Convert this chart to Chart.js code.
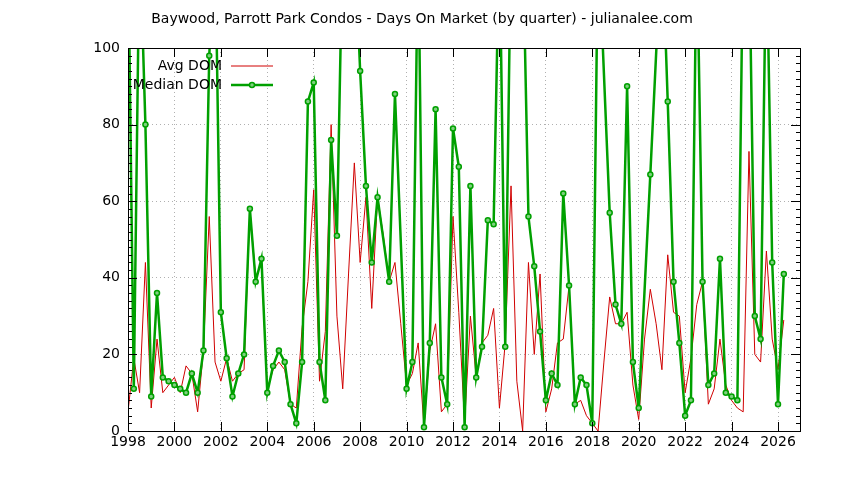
<!DOCTYPE html>
<html>
<head>
<meta charset="utf-8">
<script src="https://cdn.jsdelivr.net/npm/chart.js@4/dist/chart.umd.min.js"></script>
<style>
  html, body { margin: 0; padding: 0; background: #fff; }
  #wrap { width: 844px; height: 480px; }
</style>
</head>
<body>
<div id="wrap"><canvas id="chart" width="844" height="480"></canvas></div>
<script>
// Quarterly data, first quarter = 1998 Q1 (null = no sale that quarter)
const startYear = 1998;
const avgDom = [
  5, 19, 10, 44, 6, 24, 10, 12, 14, 10, 17, 15, 5, 21, 56, 18, 13, 19, 13, 15,
  16, 58, 40, 44, 11, 16, 18, 16, 7, 6, 27, 39, 63, 13, 26, 80, 30, 11, 41, 70,
  44, 61, 32, 61, 51, 39, 44, 28, 12, 15, 23, 1, 21, 28, 5, 7, 56, 31, 2, 30,
  14, 23, 25, 32, 6, 23, 64, 13, 0, 44, 20, 41, 5, 11, 23, 24, 38, 7, 8, 4,
  2, 0, 18, 35, 28, 28, 31, 12, 3, 24, 37, 28, 16, 46, 31, 30, 10, 19, 33, 39,
  7, 11, 24, 12, 8, 6, 5, 73, 20, 18, 47, 24, 16, 29
];
const medianDom = [
  130, 11, 130, 80, 9, 36, 14, 13, 12, 11, 10, 15, 10, 21, 98, 130, 31, 19, 9, 15,
  20, 58, 39, 45, 10, 17, 21, 18, 7, 2, 18, 86, 91, 18, 8, 76, 51, 130, 130, 130,
  94, 64, 44, 61, null, 39, 88, null, 11, 18, 130, 1, 23, 84, 14, 7, 79, 69, 1, 64,
  14, 22, 55, 54, 130, 22, 130, 130, 130, 56, 43, 26, 8, 15, 12, 62, 38, 7, 14, 12,
  2, 130, null, 57, 33, 28, 90, 18, 6, null, 67, null, 130, 86, 39, 23, 4, 8, 130, 39,
  12, 15, 45, 10, 9, 8, 130, 130, 30, 24, 130, 44, 7, 41
];
const yearTicks = [1998, 2000, 2002, 2004, 2006, 2008, 2010, 2012, 2014, 2016, 2018, 2020, 2022, 2024, 2026];

const toPoints = arr => arr.map((v, i) => ({ x: startYear + i / 4, y: v }));

const FONT = '"DejaVu Sans", sans-serif';

// gnuplot-style legend inside the plot, plus inward ticks
const gnuplotDecor = {
  id: 'gnuplotDecor',
  afterDraw(chart) {
    const ctx = chart.ctx;
    const a = chart.chartArea;
    const xs = chart.scales.x, ys = chart.scales.y;
    ctx.save();
    ctx.strokeStyle = '#000';
    ctx.lineWidth = 1;
    ctx.beginPath();
    for (let v = 0; v <= 100; v += 2) {
      const y = Math.round(ys.getPixelForValue(v)) + 0.5;
      const len = v % 20 === 0 ? 9 : 4;
      ctx.moveTo(a.left, y); ctx.lineTo(a.left + len, y);
      ctx.moveTo(a.right, y); ctx.lineTo(a.right - len, y);
    }
    yearTicks.forEach(t => {
      const x = Math.round(xs.getPixelForValue(t)) + 0.5;
      ctx.moveTo(x, a.bottom); ctx.lineTo(x, a.bottom - 9);
      ctx.moveTo(x, a.top); ctx.lineTo(x, a.top + 9);
    });
    ctx.stroke();
    ctx.strokeRect(a.left + 0.5, a.top + 0.5, a.right - a.left, a.bottom - a.top);

    // legend
    ctx.font = '14px ' + FONT;
    ctx.fillStyle = '#000';
    ctx.textAlign = 'right';
    ctx.textBaseline = 'middle';
    ctx.fillText('Avg DOM', 222, 66);
    ctx.fillText('Median DOM', 222, 85);
    ctx.strokeStyle = '#d00000';
    ctx.lineWidth = 1;
    ctx.beginPath(); ctx.moveTo(231, 66); ctx.lineTo(273, 66); ctx.stroke();
    ctx.strokeStyle = '#00a000';
    ctx.lineWidth = 2.5;
    ctx.beginPath(); ctx.moveTo(231, 85); ctx.lineTo(273, 85); ctx.stroke();
    ctx.fillStyle = '#7fd07f';
    ctx.lineWidth = 1.5;
    ctx.beginPath(); ctx.arc(252, 85, 2.5, 0, Math.PI * 2); ctx.fill(); ctx.stroke();
    ctx.restore();
  }
};

new Chart(document.getElementById('chart'), {
  type: 'scatter',
  data: {
    datasets: [
      {
        label: 'Avg DOM',
        data: toPoints(avgDom),
        showLine: true,
        borderColor: '#d00000',
        borderWidth: 1,
        pointRadius: 0,
        order: 2
      },
      {
        label: 'Median DOM',
        data: toPoints(medianDom),
        showLine: true,
        spanGaps: true,
        borderColor: '#00a000',
        borderWidth: 2.5,
        pointRadius: 2.5,
        pointBorderWidth: 1.5,
        pointBorderColor: '#00a000',
        pointBackgroundColor: '#7fd07f',
        order: 1
      }
    ]
  },
  options: {
    responsive: false,
    animation: false,
    layout: { padding: { top: 48, right: 44, left: 0, bottom: 0 } },
    plugins: {
      legend: { display: false },
      tooltip: { enabled: false },
      title: { display: false }
    },
    scales: {
      x: {
        type: 'linear',
        min: 1998,
        max: 1998 + (800 - 128) / ((778 - 128) / 28),
        afterBuildTicks: s => { s.ticks = yearTicks.map(v => ({ value: v })); },
        afterFit: s => { s.height = 49; },
        ticks: { color: '#000', font: { family: FONT, size: 14 }, padding: 3, maxRotation: 0,
                 callback: v => String(v) },
        grid: { color: '#b0b0b0', drawTicks: false, lineWidth: 1 },
        border: { display: false, dash: [1, 3] }
      },
      y: {
        min: 0,
        max: 100,
        afterFit: s => { s.width = 128; },
        ticks: { stepSize: 20, color: '#000', font: { family: FONT, size: 14 }, padding: 8 },
        grid: { color: '#b0b0b0', drawTicks: false, lineWidth: 1 },
        border: { display: false, dash: [1, 3] }
      }
    }
  },
  plugins: [gnuplotDecor, {
    id: 'titleText',
    afterDraw(chart) {
      const ctx = chart.ctx;
      ctx.save();
      ctx.font = '14px ' + FONT;
      ctx.fillStyle = '#000';
      ctx.textAlign = 'center';
      ctx.textBaseline = 'middle';
      ctx.fillText('Baywood, Parrott Park Condos - Days On Market (by quarter) - julianalee.com', 422, 19);
      ctx.restore();
    }
  }]
});
</script>
</body>
</html>
